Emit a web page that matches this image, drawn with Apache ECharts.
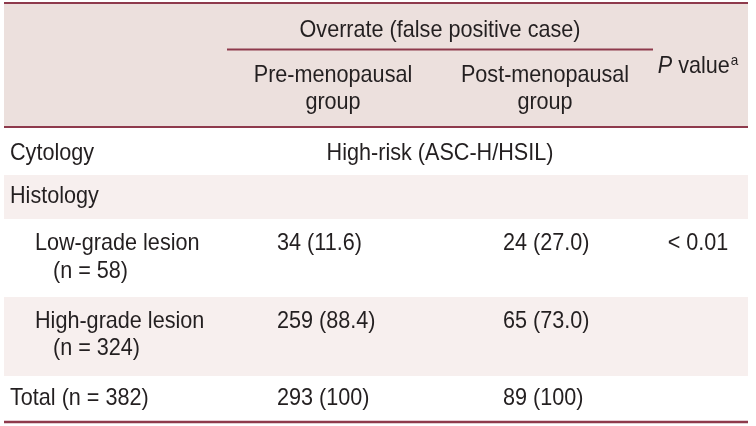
<!DOCTYPE html>
<html>
<head>
<meta charset="utf-8">
<script src="https://cdn.jsdelivr.net/npm/echarts@6/dist/echarts.min.js"></script>
<style>
html,body{margin:0;padding:0;background:#ffffff;}
#chart{width:756px;height:426px;}
</style>
</head>
<body>
<div id="chart"></div>
<script>
// ---- table content (data) ----
const groupHeader = 'Overrate (false positive case)';
const columnHeaders = ['Pre-menopausal', 'Post-menopausal'];
const columnHeaderSub = ['group', 'group'];
const pValueHeader = 'P';
const pValueHeaderRest = 'value';
const pValueFootnote = 'a';
const rowLabels = ['Cytology', 'Histology', 'Low-grade lesion', 'High-grade lesion', 'Total (n = 382)'];
const rowCounts = ['', '', '(n = 58)', '(n = 324)', ''];
const preValues = ['', '', '34 (11.6)', '259 (88.4)', '293 (100)'];
const postValues = ['', '', '24 (27.0)', '65 (73.0)', '89 (100)'];
const pValues = ['', '', '< 0.01', '', ''];
const cytologyValue = 'High-risk (ASC-H/HSIL)';

// ---- layout (axis units = pixels of the table space) ----
const L = {
  x0: 4, x1: 748,
  top: 3, headBottom: 127, bottom: 422,
  groupLineY: 49.5, groupLineX0: 227, groupLineX1: 653,
  rowEdges: [127, 175, 219, 297, 376, 422],
  stripes: [false, true, false, true, false],
  labelX: 10, indentX: 35, countX: 53,
  preX: 277, postX: 503, pX: 698,
  preHeadX: 333, postHeadX: 545, groupHeadX: 440, cytoX: 440,
  groupHeadY: 30, headLine1Y: 75.5, headLine2Y: 102.5, pHeadY: 66.5,
  rowLine1: [153.5, 196.5, 243.5, 321.5, 398.5],
  rowLine2: [0, 0, 271, 348.5, 0]
};
const FONT = '"Liberation Sans", Arial, sans-serif';
const FS = 24;
const SX = 0.9;
const TXT = '#231f20';
const HEAD_BG = '#ece0dd';
const STRIPE_BG = '#f7efee';
const RULE = '#8e3a4c';

// ---- rectangles ----
const rects = [[L.x0, L.top, L.x1, L.headBottom, HEAD_BG]];
L.stripes.forEach((s, i) => { if (s) rects.push([L.x0, L.rowEdges[i], L.x1, L.rowEdges[i + 1], STRIPE_BG]); });
// ---- rules ----
const rules = [
  [L.x0, L.top, L.x1, L.top, 2],
  [L.groupLineX0, L.groupLineY, L.groupLineX1, L.groupLineY, 2],
  [L.x0, L.headBottom, L.x1, L.headBottom, 2],
  [L.x0, L.bottom, L.x1, L.bottom, 2.5]
];
// ---- texts ----
const texts = [];
function addT(x, y, text, align, extra) { texts.push(Object.assign({x, y, text, align}, extra || {})); }
addT(L.groupHeadX, L.groupHeadY, groupHeader, 'center');
[L.preHeadX, L.postHeadX].forEach((x, i) => {
  addT(x, L.headLine1Y, columnHeaders[i], 'center');
  addT(x, L.headLine2Y, columnHeaderSub[i], 'center');
});
addT(L.pX, L.pHeadY, '{i|' + pValueHeader + '} ' + pValueHeaderRest + '{s|' + pValueFootnote + '}', 'center', {rich: true});
rowLabels.forEach((lab, i) => {
  const indented = rowCounts[i] !== '';
  addT(indented ? L.indentX : L.labelX, L.rowLine1[i], lab, 'left');
  if (indented) addT(L.countX, L.rowLine2[i], rowCounts[i], 'left');
  if (preValues[i]) addT(L.preX, L.rowLine1[i], preValues[i], 'left');
  if (postValues[i]) addT(L.postX, L.rowLine1[i], postValues[i], 'left');
  if (pValues[i]) addT(L.pX, L.rowLine1[i], pValues[i], 'center');
});
addT(L.cytoX, L.rowLine1[0], cytologyValue, 'center');

const chart = echarts.init(document.getElementById('chart'), null, {renderer: 'canvas'});
chart.setOption({
  animation: false,
  backgroundColor: '#ffffff',
  grid: {left: 0, right: 0, top: 0, bottom: 0},
  xAxis: {type: 'value', min: 0, max: 756, show: false},
  yAxis: {type: 'value', min: 0, max: 426, inverse: true, show: false},
  series: [
    {
      type: 'custom', z: 1, silent: true,
      data: rects.map(r => [r[0], r[1], r[2], r[3]]),
      encode: {x: [0, 2], y: [1, 3]},
      renderItem: function (params, api) {
        const a = api.coord([api.value(0), api.value(1)]);
        const b = api.coord([api.value(2), api.value(3)]);
        return {type: 'rect', shape: {x: a[0], y: a[1], width: b[0] - a[0], height: b[1] - a[1]},
          style: {fill: rects[params.dataIndex][4]}};
      }
    },
    {
      type: 'custom', z: 2, silent: true,
      data: rules.map(r => [r[0], r[1], r[2], r[3]]),
      encode: {x: [0, 2], y: [1, 3]},
      renderItem: function (params, api) {
        const a = api.coord([api.value(0), api.value(1)]);
        const b = api.coord([api.value(2), api.value(3)]);
        return {type: 'line', shape: {x1: a[0], y1: a[1], x2: b[0], y2: b[1]},
          style: {stroke: RULE, lineWidth: rules[params.dataIndex][4]}};
      }
    },
    {
      type: 'custom', z: 3, silent: true,
      data: texts.map(t => [t.x, t.y]),
      encode: {x: 0, y: 1},
      renderItem: function (params, api) {
        const t = texts[params.dataIndex];
        const p = api.coord([api.value(0), api.value(1)]);
        const style = {text: t.text, fill: TXT, fontFamily: FONT, fontSize: FS,
          align: t.align, verticalAlign: 'middle'};
        if (t.rich) {
          style.rich = {
            i: {fontStyle: 'italic', fontSize: FS, fontFamily: FONT, fill: TXT},
            s: {fontSize: 15, fontFamily: FONT, fill: TXT, padding: [0, 0, 11, 1]}
          };
        }
        return {type: 'text', x: p[0], y: p[1], scaleX: SX, scaleY: 1, style: style};
      }
    }
  ]
});
</script>
</body>
</html>
